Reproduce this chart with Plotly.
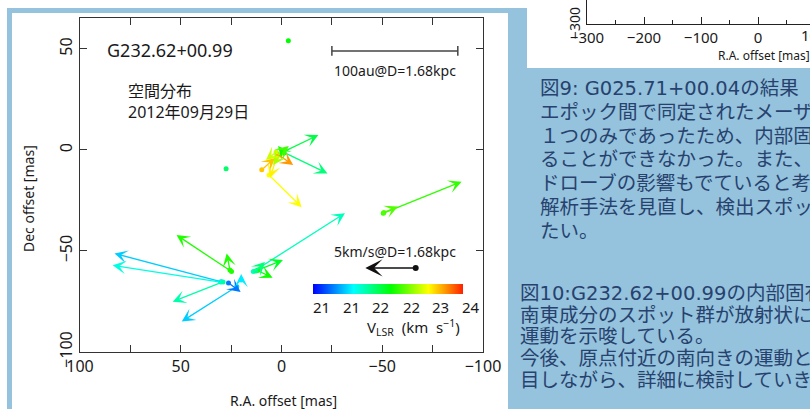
import plotly.graph_objects as go
from plotly.colors import sample_colorscale

W, H = 810, 409

# ---------------- data ----------------
# maser spots: position (mas), proper motion (km/s), V_LSR (km/s)
spot_ra = [-3.4, 27.5, -0.9, -1.2, -1.2, -0.6, 2.2, 9.8, 2.5, 6.2, 0.7, 2.7,
           24.8, 25.6, 29.9, 30.3, 29.0, 22.2, 26.3, 20.0,
           14.0, 11.7, 12.0, 12.7, -50.5, -50.8]
spot_dec = [54.0, -9.3, -0.9, -1.2, -1.5, -0.6, -2.0, -9.8, -4.0, -12.4, -2.5, -1.0,
            -60.2, -59.4, -65.2, -65.4, -65.3, -67.6, -65.8, -64.4,
            -60.2, -59.4, -59.7, -59.9, -31.3, -31.0]
spot_vx = [0, 0, -3.48, -4.32, 0.58, -0.6, -1.6, -1.32, 0.64, -3.24, 0.7, 1.0,
           5.46, 0.32, 10.6, 10.7, 5.0, 5.46, -1.2, 0.0,
           -9.1, -2.48, -1.52, -0.9, -7.78, -1.4]
spot_vy = [0, 0, 1.66, -2.08, 0.7, 0.5, -1.08, 1.16, -1.98, -3.18, -0.98, -0.8,
           3.62, 1.64, 2.8, 1.66, -1.96, -3.46, -0.9, 0.6,
           5.78, 0.98, -0.7, 0.9, 3.12, 0.6]
spot_vlsr = [22.56, 22.25, 22.36, 22.2, 22.6, 22.75, 23.64, 23.5, 23.35, 23.3, 23.06, 23.16,
             22.65, 22.65, 21.65, 21.9, 22.05, 21.65, 21.38, 21.75,
             22.01, 22.45, 22.6, 22.2, 22.7, 22.8]

# reference vector 5 km/s and scale bar 100 au
ref_ra, ref_dec, ref_speed = -66.6, -58.4, 5.0
ref_arrow_mas = 25.0                      # length of the 5 km/s arrow in mas
MAS_PER_KMS = ref_arrow_mas / ref_speed
scalebar_ra = [-25.0, -87.5]
scalebar_dec = [49.0, 49.0]

vmin, vmax = 21.0, 24.0
cbar_vals = [21.0, 21.6, 22.2, 22.8, 23.4, 24.0]
cbar_text = ["21", "21", "22", "22", "23", "24"]

xticks_main = [100, 75, 50, 25, 0, -25, -50, -75, -100]
xticks_main_text = ["100", "", "50", "", "0", "", "\u221250", "", "\u2212100"]
yticks_main = [50, 0, -50, -100]
yticks_main_text = ["50", "0", "\u221250", "\u2212100"]

mini_major = [-300, -200, -100, 0]
mini_major_text = ["\u2212300", "\u2212200", "\u2212100", "0"]
mini_minor = [-250, -150, -50, 50]

para1 = ["図9: G025.71+00.04の結果",
         "エポック間で同定されたメーザー",
         "１つのみであったため、内部固有",
         "ることができなかった。また、サ",
         "ドローブの影響もでていると考え",
         "解析手法を見直し、検出スポット",
         "たい。"]
para2 = ["図10:G232.62+00.99の内部固有",
         "南東成分のスポット群が放射状に広",
         "運動を示唆している。",
         "今後、原点付近の南向きの運動と",
         "目しながら、詳細に検討していき"]

# ---------------- styling ----------------
CS = [[0.0, "rgb(0,0,255)"], [0.27, "rgb(0,255,255)"], [0.52, "rgb(0,255,0)"],
      [0.77, "rgb(255,255,0)"], [0.88, "rgb(255,153,0)"], [1.0, "rgb(255,32,0)"]]
BLUE_BG = "#95c2dc"
NAVY = "#27426f"
INK = "#1a1a1a"
FONT = "Noto Sans, Noto Sans CJK JP, sans-serif"
PFONT = "DejaVu Sans, Noto Sans CJK JP, sans-serif"


def px(x):
    return x / W


def py(y):
    return 1 - y / H


colors = sample_colorscale(CS, [(v - vmin) / (vmax - vmin) for v in spot_vlsr])

fig = go.Figure()

# spots (with colour bar)
fig.add_trace(go.Scatter(
    x=spot_ra, y=spot_dec, mode="markers", hoverinfo="skip", showlegend=False,
    marker=dict(size=5, color=spot_vlsr, colorscale=CS, cmin=vmin, cmax=vmax,
                showscale=True,
                colorbar=dict(orientation="h", x=px(388), xanchor="center",
                              y=py(284), yanchor="top", len=150, lenmode="pixels",
                              thickness=10, thicknessmode="pixels", outlinewidth=0,
                              xpad=0, ypad=0, showticklabels=False, ticks=""))))

# scale bar
fig.add_trace(go.Scatter(
    x=scalebar_ra, y=scalebar_dec, mode="lines+markers", hoverinfo="skip",
    showlegend=False, line=dict(color="#444", width=1.5),
    marker=dict(symbol="line-ns", size=7, line=dict(color="#444", width=1.5))))

# reference vector tail dot
fig.add_trace(go.Scatter(
    x=[ref_ra], y=[ref_dec], mode="markers", hoverinfo="skip", showlegend=False,
    marker=dict(size=6, color="#111")))

# mini axis trace (top-right panel) - invisible
fig.add_trace(go.Scatter(x=[-300], y=[-300], mode="markers", xaxis="x2", yaxis="y2",
                         marker=dict(opacity=0), hoverinfo="skip", showlegend=False))

ann = []
for r, d, vx, vy, c in zip(spot_ra, spot_dec, spot_vx, spot_vy, colors):
    if vx == 0 and vy == 0:
        continue
    ann.append(dict(x=r + vx * MAS_PER_KMS, y=d + vy * MAS_PER_KMS, ax=r, ay=d,
                    xref="x", yref="y", axref="x", ayref="y", text="",
                    showarrow=True, arrowhead=3, arrowsize=1.7, arrowwidth=1.3,
                    arrowcolor=c, standoff=0))

ann.append(dict(x=ref_ra + ref_speed * MAS_PER_KMS, y=ref_dec, ax=ref_ra, ay=ref_dec,
                xref="x", yref="y", axref="x", ayref="y", text="", showarrow=True,
                arrowhead=3, arrowsize=1.8, arrowwidth=1.6, arrowcolor="#111",
                standoff=0))


def txt(t, x, y, size, xanchor="center", color=INK, font=FONT, angle=0):
    ann.append(dict(text=t, x=px(x), y=py(y), xref="paper", yref="paper",
                    xanchor=xanchor, yanchor="middle", showarrow=False,
                    textangle=angle, font=dict(family=font, size=size, color=color)))


txt("G232.62+00.99", 105, 50, 18, "left")
txt("空間分布", 126, 91, 16, "left")
txt("2012年09月29日", 126, 112, 16, "left")
txt("100au@D=1.68kpc", 395, 70, 14)
txt("5km/s@D=1.68kpc", 395, 252, 14)
for v, t in zip(cbar_vals, cbar_text):
    txt(t, 313 + (v - vmin) / (vmax - vmin) * 150 + 8, 307, 15)
txt("V<sub>LSR</sub>  (km  s<sup>\u22121</sup>)", 414, 327, 15)
txt("R.A. offset [mas]", 283, 400, 14)
txt("Dec offset [mas]", 28, 198, 14, angle=-90)

# mini panel texts
txt("\u2212300", 575, 23, 14, angle=-90)
txt("100", 814, 35, 15)
txt("R.A. offset [mas]", 764, 55, 12)

for i, line in enumerate(para1):
    txt(line, 538, 88.5 + 23.8 * i, 19.5, "left", NAVY, PFONT)
for i, line in enumerate(para2):
    txt(line, 518, 293.5 + 21.7 * i, 19.5, "left", NAVY, PFONT)

shapes = [
    dict(type="rect", xref="paper", yref="paper", x0=0, x1=1, y0=py(8), y1=1,
         fillcolor="white", line_width=0, layer="below"),
    dict(type="rect", xref="paper", yref="paper", x0=0, x1=px(7), y0=0, y1=1,
         fillcolor="white", line_width=0, layer="below"),
    dict(type="rect", xref="paper", yref="paper", x0=px(12), x1=px(508), y0=0, y1=py(13),
         fillcolor="white", line_width=0, layer="below"),
    dict(type="rect", xref="paper", yref="paper", x0=px(527), x1=1, y0=py(68), y1=1,
         fillcolor="white", line_width=0, layer="below"),
    dict(type="rect", xref="paper", yref="paper", x0=px(508), x1=px(527), y0=py(68), y1=py(8),
         fillcolor=BLUE_BG, line_width=0, layer="below"),
]

axis_common = dict(showgrid=False, zeroline=False, showline=True, linecolor="#333",
                   linewidth=1.3, mirror="ticks", ticks="inside", ticklen=7,
                   tickwidth=1.2, tickcolor="#333",
                   tickfont=dict(family=FONT, size=16, color=INK))

fig.update_layout(
    width=W, height=H, margin=dict(l=0, r=0, t=0, b=0, autoexpand=False),
    paper_bgcolor=BLUE_BG, plot_bgcolor="white",
    xaxis=dict(domain=[px(80), px(483)], range=[100, -100], tickmode="array",
               tickvals=xticks_main, ticktext=xticks_main_text, **axis_common),
    yaxis=dict(domain=[py(352), py(18)], range=[-100, 65.3], tickmode="array",
               tickvals=yticks_main, ticktext=yticks_main_text, tickangle=-90,
               **axis_common),
    xaxis2=dict(domain=[px(587), 1.0], range=[-300, -300 + (810 - 587) / 0.57],
                anchor="y2", tickmode="array", tickvals=mini_major,
                ticktext=mini_major_text, showgrid=False, zeroline=False,
                showline=True, linecolor="#222", linewidth=1.3, ticks="inside",
                ticklen=7, tickwidth=1.2, tickcolor="#222",
                minor=dict(tickvals=mini_minor, ticks="inside", ticklen=4,
                           tickwidth=1.2, tickcolor="#222"),
                tickfont=dict(family=FONT, size=15, color=INK)),
    yaxis2=dict(domain=[py(24), 1.0], range=[-300, -250], anchor="x2",
                showgrid=False, zeroline=False, showline=True, linecolor="#222",
                linewidth=1.3, showticklabels=False, ticks=""),
    annotations=ann, shapes=shapes, showlegend=False,
)

fig.write_html("out.html")
